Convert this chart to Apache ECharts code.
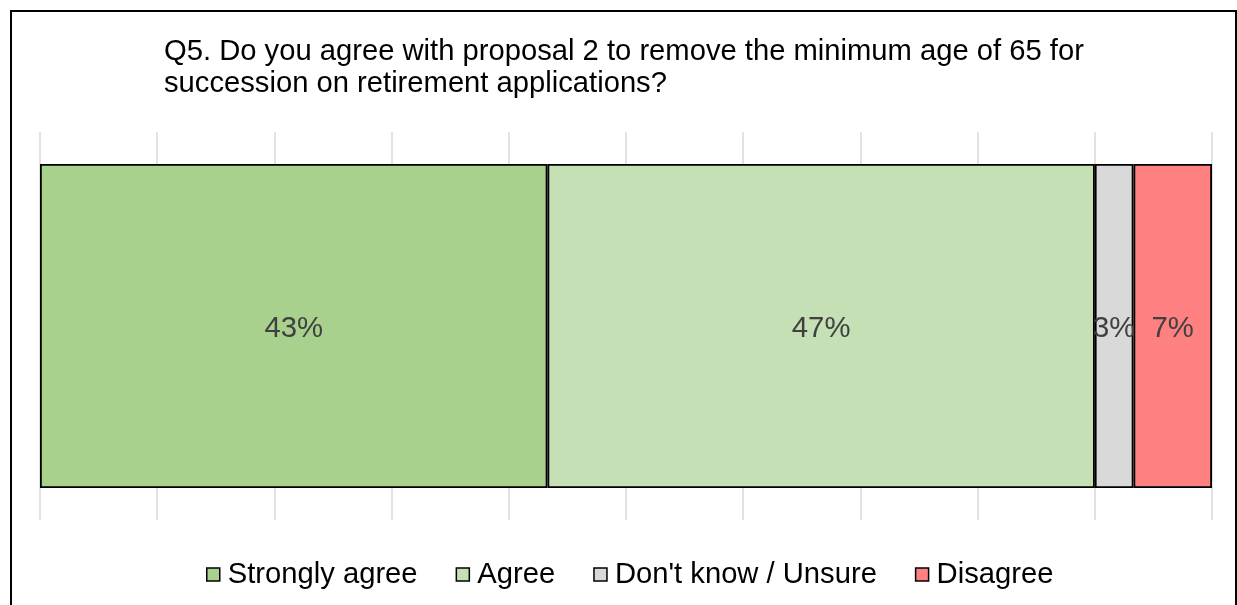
<!DOCTYPE html>
<html>
<head>
<meta charset="utf-8">
<script src="https://cdn.jsdelivr.net/npm/echarts@6/dist/echarts.min.js"></script>
<style>
html,body{margin:0;padding:0;background:#fff;}
#chart{width:1237px;height:605px;}
</style>
</head>
<body>
<div id="chart"></div>
<script>
const titleText = "Q5. Do you agree with proposal 2 to remove the minimum age of 65 for\nsuccession on retirement applications?";
const categories = ["Q5"];
const seriesNames = ["Strongly agree", "Agree", "Don't know / Unsure", "Disagree"];
const seriesValues = [43.3, 46.7, 3.3, 6.7];
const seriesColors = ["#A9D18E", "#C5E0B4", "#D9D9D9", "#FF8080"];

const chart = echarts.init(document.getElementById('chart'));
const FONT = '"Liberation Sans", Arial, sans-serif';

const series = seriesNames.map((name, i) => ({
  name: name,
  type: 'bar',
  stack: 'total',
  barWidth: 324,
  data: [seriesValues[i]],
  itemStyle: { color: seriesColors[i], borderColor: '#000', borderWidth: 1.8 },
  label: {
    show: true,
    position: 'inside',
    offset: [0, 3],
    formatter: p => Math.round(p.value) + '%',
    color: '#404040',
    fontSize: 29.3,
    fontFamily: FONT
  },
  emphasis: { disabled: true }
}));

chart.setOption({
  animation: false,
  backgroundColor: '#fff',
  title: {
    text: titleText,
    left: 159,
    top: 31,
    textStyle: { fontSize: 29.2, fontWeight: 'normal', color: '#000', fontFamily: FONT, lineHeight: 32 }
  },
  graphic: [{
    type: 'rect',
    shape: { x: 11, y: 11, width: 1225, height: 700 },
    style: { fill: 'none', stroke: '#000', lineWidth: 2 },
    silent: true,
    z: 100
  }],
  legend: {
    bottom: 11,
    left: 201,
    itemWidth: 13,
    itemHeight: 13,
    itemGap: 38,
    icon: 'rect',
    itemStyle: { borderColor: '#000', borderWidth: 1.5 },
    textStyle: { fontSize: 29.2, color: '#000', fontFamily: FONT, padding: [0, 0, 0, 3] },
    data: seriesNames
  },
  grid: { left: 40, right: 25, top: 132, bottom: 85, containLabel: false },
  xAxis: {
    type: 'value',
    min: 0,
    max: 100,
    interval: 10,
    axisLabel: { show: false },
    axisLine: { show: false },
    axisTick: { show: false },
    splitLine: { show: true, lineStyle: { color: '#D9D9D9', width: 1.5 } }
  },
  yAxis: {
    type: 'category',
    data: categories,
    axisLabel: { show: false },
    axisLine: { show: false },
    axisTick: { show: false }
  },
  series: series
});
</script>
</body>
</html>
